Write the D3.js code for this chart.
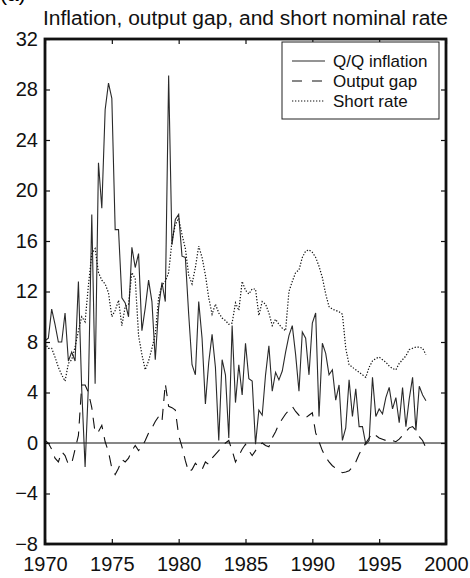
<!DOCTYPE html>
<html>
<head>
<meta charset="utf-8">
<script src="https://cdn.jsdelivr.net/npm/d3@7"></script>
<style>
  body { margin: 0; background: #fff; }
  svg { display: block; }
</style>
</head>
<body>
<div id="vis"></div>
<script>
// quarterly data, 1970Q1 .. 1998Q3
const startYear = 1970;
const inflation = [
    8.1, 8.3, 10.6, 9.4, 8.0, 8.0, 10.3, 6.5, 7.2, 6.5,
    12.8, 4.2, -1.9, 4.6, 18.1, 4.7, 22.2, 18.6, 26.4, 28.5,
    27.3, 16.9, 16.9, 11.5, 11.1, 10.0, 15.5, 13.9, 15.0, 8.9,
    10.7, 12.9, 11.2, 6.6, 10.7, 12.7, 11.2, 29.1, 15.7, 17.7,
    18.1, 14.8, 14.7, 10.2, 6.2, 5.4, 11.2, 8.3, 3.1, 6.4,
    8.6, 6.0, 0.2, 6.6, 5.4, 0.4, 9.3, 3.2, 6.2, 3.8,
    7.9, 5.1, 4.9, -0.1, 2.6, 2.2, 5.4, 7.7, 4.1, 5.6,
    5.0, 5.7, 7.2, 8.5, 9.3, 7.0, 4.1, 8.8, 8.3, 5.4,
    9.5, 10.3, 2.1, 7.9, 7.1, 5.4, 5.8, 3.4, 4.6, 0.2,
    1.2, 5.0, 2.1, 4.3, 1.3, 1.3, -0.1, 0.2, 5.2, 2.1,
    2.7, 2.3, 3.6, 4.4, 2.7, 3.6, 1.6, 4.4, 1.3, 3.5,
    5.2, 1.0, 4.5, 3.8, 3.35
];
const outputGap = [
    0.2, 0.0, -0.5, -1.2, -1.5, -0.7, -1.0, -1.7, -1.6, -0.5,
    0.6, 4.6, 4.6, 4.0, 2.8, 0.8, 0.9, 1.4, 0.1, -0.7,
    -2.0, -2.5, -2.0, -1.3, -1.5, -1.2, -0.6, -0.2, -0.6, -0.3,
    0.2, 0.8, 1.2, 1.7, 2.1, 1.7, 4.7, 2.9, 2.8, 2.6,
    0.6, -0.3, -1.4, -2.3, -2.1, -1.6, -1.9, -2.1, -1.5, -1.7,
    -1.2, -0.9, -0.6, -0.3, 0.0, 0.2, -0.6, -1.5, -1.0, -0.5,
    -0.1, -0.6, -1.0, -0.6, -0.2, 0.0, -0.2, -0.3, 0.4, 0.9,
    1.5, 1.9, 2.3, 2.6, 2.9, 2.5, 2.2, 2.0, 2.0, 2.2,
    2.4, 0.8, 0.1, -0.6, -1.1, -1.5, -1.8, -2.0, -2.2, -2.35,
    -2.3, -2.2, -1.9, -1.5, -0.9, -0.4, 0.0, 0.4, 0.8, 0.6,
    0.4, 0.3, 0.2, 0.1, 0.2, 0.1, 0.3, 0.6, 0.9, 1.2,
    1.3, 1.0, 0.5, 0.2, -0.4
];
const shortRate = [
    7.9, 7.5, 7.5, 6.8, 6.0, 5.4, 4.9, 6.3, 6.6, 7.6,
    8.9, 10.0, 9.6, 12.5, 15.0, 15.4, 13.5, 12.9, 12.6, 11.9,
    10.0, 10.5, 11.3, 9.3, 10.8, 11.0, 13.5, 13.0, 8.5, 7.0,
    5.8, 6.5, 7.5, 8.6, 11.5, 12.5, 12.8, 13.5, 16.0, 17.3,
    17.8, 16.5, 15.4, 13.3, 12.6, 13.9, 15.6, 14.7, 13.3, 11.5,
    10.2, 11.0, 10.3, 9.9, 9.7, 9.4, 9.5, 11.1, 10.5, 12.8,
    12.1, 11.8, 12.2, 12.2, 10.1, 11.2, 11.0, 10.3, 9.3, 9.8,
    9.4, 9.1, 8.9, 12.0, 12.8, 13.5, 13.7, 14.7, 15.2, 15.3,
    15.1, 14.7, 14.0, 13.1, 11.8, 10.8, 10.6, 10.5, 10.4, 10.2,
    7.5, 6.2, 6.0, 5.8, 5.6, 5.4, 5.2, 6.0, 6.5, 6.7,
    6.8, 6.6, 6.4, 6.1, 5.9, 5.8, 6.3, 6.6, 6.9, 7.4,
    7.5, 7.6, 7.6, 7.5, 7.0
];
const xTicks = [1970, 1975, 1980, 1985, 1990, 1995, 2000];
const yTicks = [-8, -4, 0, 4, 8, 12, 16, 20, 24, 28, 32];
const seriesNames = ["Q/Q inflation", "Output gap", "Short rate"];

function vis() {
    const title = "Inflation, output gap, and short nominal rate";
    const font = "'Liberation Sans', Arial, Helvetica, sans-serif";

    const width = 470;
    const height = 578;
    const margin = {
        left: 45,
        top: 39,
        right: 24,
        bottom: 34
    };

    const svg = d3.select("#vis")
        .append("svg")
        .attr("width", width)
        .attr("height", height)
        .attr("viewBox", `0 0 ${width} ${height}`)
        .style("font-family", font);

    const x = d3.scaleLinear()
        .domain([1970, 2000])
        .range([margin.left, width - margin.right]);
    const y = d3.scaleLinear()
        .domain([-8, 32])
        .range([height - margin.bottom, margin.top]);

    const series = [
        { name: seriesNames[0], values: inflation, dash: null, legendDash: null, color: "#2a2a2a", w: 1.1 },
        { name: seriesNames[1], values: outputGap, dash: "11,8", legendDash: "10,10", color: "#111", w: 1.1 },
        { name: seriesNames[2], values: shortRate, dash: "1.3,1.7", legendDash: "1.3,1.7", color: "#111", w: 1.2 }
    ];

    // panel label, cut off at the top like the scan
    svg.append("text")
        .attr("x", 0)
        .attr("y", 1)
        .style("font-size", "21px")
        .text("(a)");

    const titleText = svg.append("text")
        .attr("x", 43)
        .attr("y", 25)
        .style("font-size", "21px")
        .style("fill", "#111")
        .text(title);
    // fit the title to the width it has in the figure (43..448)
    const tw = titleText.node().getComputedTextLength();
    if (tw > 0) titleText.style("font-size", `${21 * 405 / tw}px`);

    // zero line
    svg.append("line")
        .attr("x1", x(1970))
        .attr("x2", x(2000))
        .attr("y1", y(0))
        .attr("y2", y(0))
        .style("stroke", "#111")
        .style("stroke-width", 1.2);

    const line = d3.line()
        .x((d, i) => x(startYear + i / 4))
        .y(d => y(d));

    svg.selectAll(".series")
        .data(series)
        .join("path")
            .attr("class", "series")
            .attr("d", d => line(d.values))
            .style("fill", "none")
            .style("stroke", d => d.color)
            .style("stroke-width", d => d.w)
            .style("stroke-dasharray", d => d.dash);

    // axes, ticks pointing inward on all four sides
    const gx = svg.append("g")
        .attr("transform", `translate(0,${y(-8)})`)
        .call(d3.axisBottom(x).tickValues(xTicks).tickSize(-5).tickPadding(13).tickFormat(d3.format("d")));
    const gy = svg.append("g")
        .attr("transform", `translate(${x(1970)},0)`)
        .call(d3.axisLeft(y).tickValues(yTicks).tickSize(-5).tickPadding(7));
    const gt = svg.append("g")
        .attr("transform", `translate(0,${y(32)})`)
        .call(d3.axisTop(x).tickValues(xTicks).tickSize(-5).tickFormat(""));
    const gr = svg.append("g")
        .attr("transform", `translate(${x(2000)},0)`)
        .call(d3.axisRight(y).tickValues(yTicks).tickSize(-5).tickFormat(""));

    [gx, gy, gt, gr].forEach(g => {
        g.select(".domain").remove();
        g.selectAll(".tick line").style("stroke", "#111").style("stroke-width", 1.2);
        g.selectAll(".tick text")
            .style("font-family", font)
            .style("font-size", "20px")
            .style("fill", "#111");
    });

    svg.append("rect")
        .attr("x", x(1970))
        .attr("y", y(32))
        .attr("width", x(2000) - x(1970))
        .attr("height", y(-8) - y(32))
        .style("fill", "none")
        .style("stroke", "#111")
        .style("stroke-width", 2.8);

    // legend
    const legend = svg.append("g")
        .attr("transform", `translate(282,42)`);

    legend.append("rect")
        .attr("width", 157)
        .attr("height", 77)
        .style("fill", "#fff")
        .style("stroke", "#222")
        .style("stroke-width", 1);

    const rows = legend.selectAll(".legend-row")
        .data(series)
        .join("g")
            .attr("class", "legend-row")
            .attr("transform", (_, i) => `translate(0,${19 + i * 20})`);

    rows.append("line")
        .attr("x1", 10)
        .attr("x2", 43)
        .style("stroke", d => d.color)
        .style("stroke-width", d => d.w)
        .style("stroke-dasharray", d => d.legendDash);

    rows.append("text")
        .attr("x", 51)
        .attr("dy", "0.35em")
        .style("font-size", "17px")
        .style("fill", "#111")
        .text(d => d.name);
}

vis();
</script>
</body>
</html>
